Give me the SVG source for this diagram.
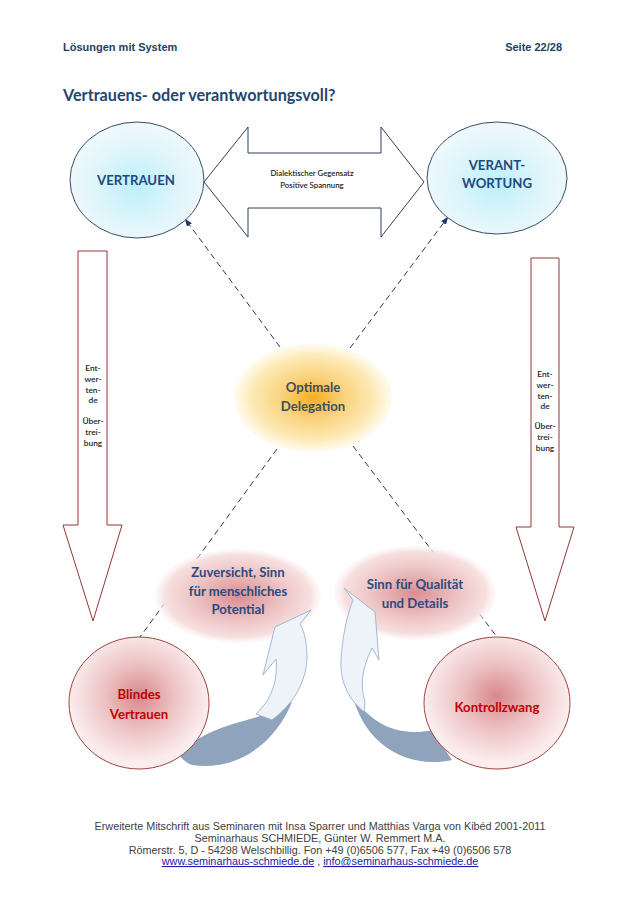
<svg xmlns="http://www.w3.org/2000/svg" width="638" height="903" viewBox="0 0 638 903">
<defs>
<style>
.hdr{font-family:"Liberation Sans",Arial,sans-serif;font-weight:bold;font-size:11px;fill:#243F60}
.title{font-family:Lato,"Open Sans",sans-serif;font-weight:bold;font-size:16.2px;fill:#234670}
.big{font-family:Lato,"Open Sans",sans-serif;font-weight:bold;font-size:13.2px;text-anchor:middle}
.blue{fill:#1F497D}
.navy{fill:#2E4A7D}
.red{fill:#C00000}
.gray{fill:#3E4E5E}
.small{font-family:Lato,"Open Sans",sans-serif;font-size:8.3px;fill:#1a1a1a;text-anchor:middle;font-weight:600}
.dia{font-family:Lato,"Open Sans",sans-serif;font-size:7.8px;fill:#1a1a1a;text-anchor:middle;font-weight:600}
.foot{font-family:"Liberation Sans",Arial,sans-serif;font-size:10.8px;fill:#404040;text-anchor:middle}
.link{fill:#1A1AA8;text-decoration:underline}
.dash{stroke:#1F3864;stroke-width:1;stroke-dasharray:6,4;fill:none}
.varrow{fill:#fff;stroke:#953735;stroke-width:1}
.light{fill:#EEF3FA;stroke:#8FAACC;stroke-width:0.8}
.dark{fill:#8FA4BC}
</style>
<radialGradient id="gCyan" cx="50%" cy="55%" r="50%">
<stop offset="0%" stop-color="#BDEFFA"/>
<stop offset="60%" stop-color="#DDF5FB"/>
<stop offset="100%" stop-color="#EDF8FC"/>
</radialGradient>
<radialGradient id="gRedC" cx="50%" cy="45%" r="50%">
<stop offset="0%" stop-color="#D8878B"/>
<stop offset="50%" stop-color="#EDC2C3"/>
<stop offset="100%" stop-color="#FBEDEE"/>
</radialGradient>
<radialGradient id="gPink" cx="50%" cy="50%" r="50%">
<stop offset="0%" stop-color="#DA8E91"/>
<stop offset="55%" stop-color="#EEC5C6"/>
<stop offset="88%" stop-color="#F7E0E0"/>
<stop offset="100%" stop-color="#FBEFEF" stop-opacity="0.3"/>
</radialGradient>
<radialGradient id="gOrange" cx="50%" cy="50%" r="50%">
<stop offset="0%" stop-color="#F7AE22"/>
<stop offset="40%" stop-color="#FAD37D"/>
<stop offset="80%" stop-color="#FDEBBA"/>
<stop offset="100%" stop-color="#FFF4D8" stop-opacity="0.4"/>
</radialGradient>
<marker id="ah" markerWidth="8" markerHeight="6" refX="7.5" refY="3" orient="auto" markerUnits="userSpaceOnUse">
<path d="M0,0 L8,3 L0,6 z" fill="#1F3864"/>
</marker>
</defs>
<rect width="638" height="903" fill="#fff"/>

<g id="header">
<text class="hdr" x="63" y="51">Lösungen mit System</text>
<text class="hdr" x="562" y="51" text-anchor="end">Seite 22/28</text>
<text class="title" x="63" y="101">Vertrauens- oder verantwortungsvoll?</text>
</g>

<g id="connectors">
<line class="dash" x1="280" y1="347" x2="185" y2="219" marker-end="url(#ah)"/>
<line class="dash" x1="350" y1="348" x2="448" y2="217" marker-end="url(#ah)"/>
<line class="dash" x1="277" y1="449" x2="140" y2="637"/>
<line class="dash" x1="353" y1="446" x2="497" y2="637"/>
</g>

<g id="double-arrow">
<polygon points="204,182 248,127 248,153 381,153 381,127 424,182 381,237 381,208 248,208 248,237" fill="#fff" stroke="#2F3F5F" stroke-width="1"/>
<text class="dia" x="312" y="176">Dialektischer Gegensatz</text>
<text class="dia" x="312" y="188">Positive Spannung</text>
</g>

<g id="vertrauen">
<ellipse cx="137" cy="180" rx="67" ry="58" fill="url(#gCyan)" stroke="#3A4C68" stroke-width="1"/>
<text class="big blue" x="136" y="185">VERTRAUEN</text>
</g>

<g id="verantwortung">
<ellipse cx="497" cy="178" rx="70" ry="56" fill="url(#gCyan)" stroke="#3A4C68" stroke-width="1"/>
<text class="big blue" x="497" y="170">VERANT-</text>
<text class="big blue" x="497" y="188">WORTUNG</text>
</g>

<g id="left-down-arrow">
<polygon class="varrow" points="78,251 107,251 107,525 122,525 93,621 63,525 78,525"/>
<text class="small" x="93" y="371">Ent-</text>
<text class="small" x="93" y="382">wer-</text>
<text class="small" x="93" y="393">ten-</text>
<text class="small" x="93" y="403">de</text>
<text class="small" x="93" y="424">Über-</text>
<text class="small" x="93" y="435">trei-</text>
<text class="small" x="93" y="446">bung</text>
</g>

<g id="right-down-arrow">
<polygon class="varrow" points="531,258 559,258 559,527 574,527 545,621 516,527 531,527"/>
<text class="small" x="545" y="377">Ent-</text>
<text class="small" x="545" y="388">wer-</text>
<text class="small" x="545" y="399">ten-</text>
<text class="small" x="545" y="409">de</text>
<text class="small" x="545" y="429">Über-</text>
<text class="small" x="545" y="440">trei-</text>
<text class="small" x="545" y="451">bung</text>
</g>

<g id="optimale-delegation">
<ellipse cx="313" cy="398" rx="79" ry="54" fill="url(#gOrange)"/>
<text class="big gray" x="313" y="392">Optimale</text>
<text class="big gray" x="313" y="411">Delegation</text>
</g>

<g id="zuversicht">
<ellipse cx="238" cy="596" rx="83" ry="47" fill="url(#gPink)"/>
<text class="big navy" x="238" y="577">Zuversicht, Sinn</text>
<text class="big navy" x="238" y="596">für menschliches</text>
<text class="big navy" x="238" y="614">Potential</text>
</g>

<g id="qualitaet">
<ellipse cx="415" cy="593" rx="81" ry="47" fill="url(#gPink)"/>
<text class="big navy" x="415" y="589">Sinn für Qualität</text>
<text class="big navy" x="415" y="608">und Details</text>
</g>

<g id="curved-arrow-left">
<path class="dark" d="M180,756 C200,728 240,724 272,712 L292,702 C276,742 238,772 192,765 C187,763 183,760 180,756 Z"/>
<path class="light" d="M272,720 C292,705 306,684 307,658 C307,645 305,632 300,624 L311,610 L275,627 L263,675 L276,659 C278,682 271,700 256,714 Z"/>
</g>

<g id="curved-arrow-right">
<path class="dark" d="M352,692 C366,722 398,738 432,730 L452,760 C405,770 362,742 352,692 Z"/>
<path class="light" d="M364,712 C347,698 340,680 341,660 C342,640 346,618 353,600 L344,588 L375,612 L379,660 L372,648 C362,668 360,685 365,702 Z"/>
</g>

<g id="blindes-vertrauen">
<ellipse cx="139" cy="703" rx="70" ry="66" fill="url(#gRedC)" stroke="#A0443F" stroke-width="1"/>
<text class="big red" x="139" y="699">Blindes</text>
<text class="big red" x="139" y="719">Vertrauen</text>
</g>

<g id="kontrollzwang">
<ellipse cx="497" cy="703" rx="73" ry="66" fill="url(#gRedC)" stroke="#A0443F" stroke-width="1"/>
<text class="big red" x="497" y="712">Kontrollzwang</text>
</g>

<g id="footer">
<text class="foot" x="320" y="830">Erweiterte Mitschrift aus Seminaren mit Insa Sparrer und Matthias Varga von Kibéd 2001-2011</text>
<text class="foot" x="320" y="842">Seminarhaus SCHMIEDE, Günter W. Remmert M.A.</text>
<text class="foot" x="320" y="854">Römerstr. 5, D - 54298 Welschbillig. Fon +49 (0)6506 577, Fax +49 (0)6506 578</text>
<text class="foot" x="320" y="865"><tspan class="link">www.seminarhaus-schmiede.de</tspan> , <tspan class="link">info@seminarhaus-schmiede.de</tspan></text>
</g>
</svg>
